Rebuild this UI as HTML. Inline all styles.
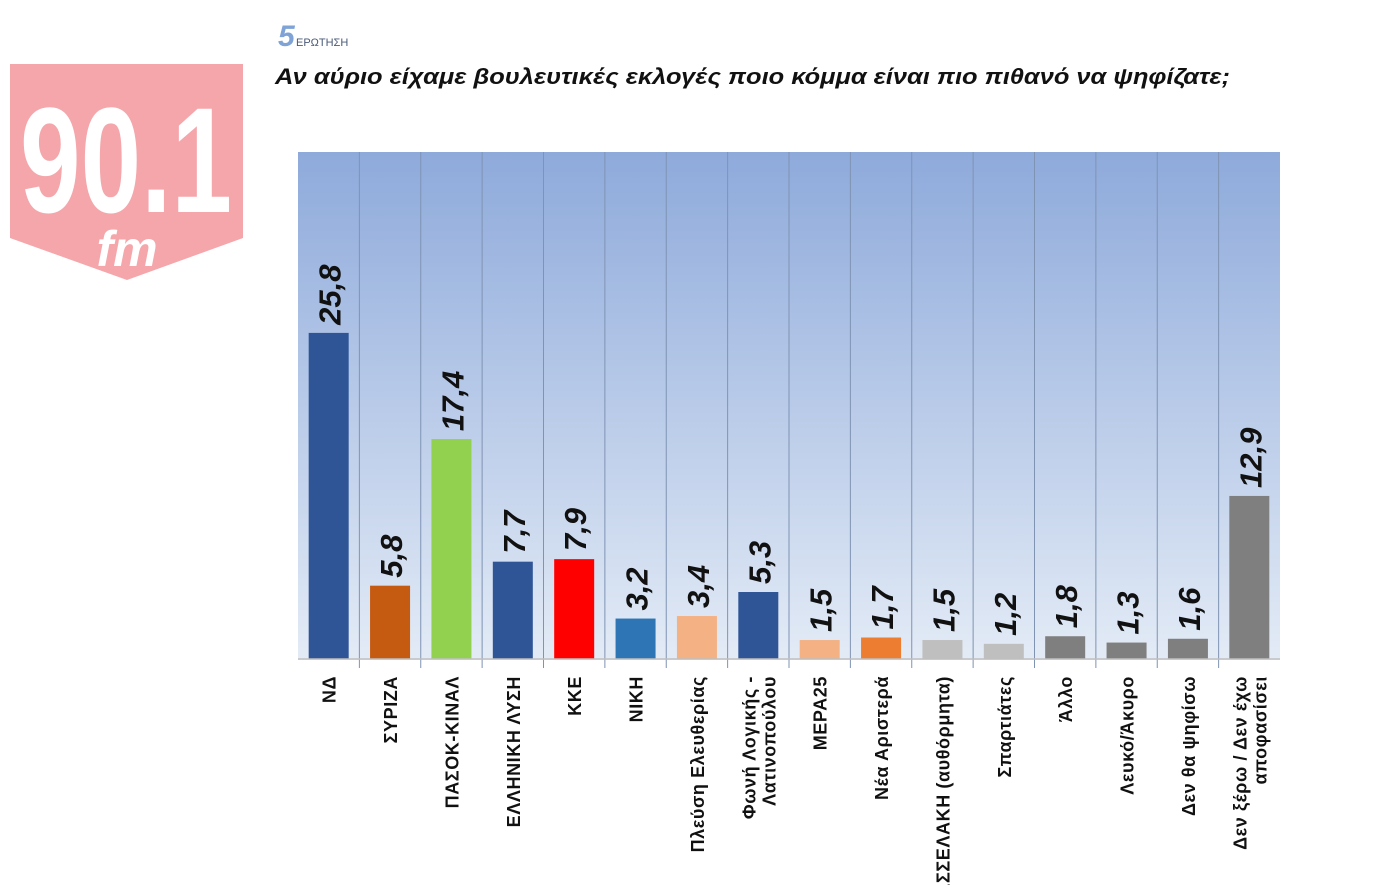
<!DOCTYPE html>
<html><head><meta charset="utf-8"><style>
body{margin:0;width:1390px;height:885px;background:#fff;overflow:hidden;position:relative;font-family:"Liberation Sans","DejaVu Sans",sans-serif}
</style></head><body>
<svg width="1390" height="885" style="position:absolute;left:0;top:0">
<defs><linearGradient id="bg" x1="0" y1="0" x2="0" y2="1"><stop offset="0" stop-color="#8eaadb"/><stop offset="1" stop-color="#e3ebf6"/></linearGradient></defs>
<g>
<path d="M10 64 H243 V238 L127 280 L10 238 Z" fill="#f4a6ab"/>
<text x="20" y="212" font-size="150" font-weight="bold" fill="#fff" textLength="212" lengthAdjust="spacingAndGlyphs">90.1</text>
<text x="127" y="266" text-anchor="middle" font-size="50" font-weight="bold" font-style="italic" fill="#fff">fm</text>
</g>
<g>
<text x="278" y="46" font-size="30" font-weight="bold" font-style="italic" fill="#7fa3d6">5</text>
<text x="296" y="46" font-size="11" fill="#4a5a7a">ΕΡΩΤΗΣΗ</text>
</g>
<text x="275" y="84" font-size="22" font-weight="bold" font-style="italic" fill="#111" textLength="955" lengthAdjust="spacingAndGlyphs">Αν αύριο είχαμε βουλευτικές εκλογές ποιο κόμμα είναι πιο πιθανό να ψηφίζατε;</text>
<rect x="298" y="152" width="982" height="508" fill="url(#bg)"/>
<g id="grid"></g><g id="bars"></g><g id="vals"></g><g id="labels"></g>
<line x1="298" y1="659" x2="1280" y2="659" stroke="#bfbfbf" stroke-width="1.5"/>
</svg>
<script>
const categories=["ΝΔ","ΣΥΡΙΖΑ","ΠΑΣΟΚ-ΚΙΝΑΛ","ΕΛΛΗΝΙΚΗ ΛΥΣΗ","ΚΚΕ","ΝΙΚΗ","Πλεύση Ελευθερίας","Φωνή Λογικής -|Λατινοπούλου","ΜΕΡΑ25","Νέα Αριστερά","ΚΑΣΣΕΛΑΚΗ  (αυθόρμητα)","Σπαρτιάτες","Άλλο","Λευκό/Άκυρο","Δεν θα ψηφίσω","Δεν ξέρω / Δεν έχω|αποφασίσει"];
const values=[25.8,5.8,17.4,7.7,7.9,3.2,3.4,5.3,1.5,1.7,1.5,1.2,1.8,1.3,1.6,12.9];
const valueLabels=["25,8","5,8","17,4","7,7","7,9","3,2","3,4","5,3","1,5","1,7","1,5","1,2","1,8","1,3","1,6","12,9"];
const colors=["#2f5597","#c55a11","#92d050","#2f5597","#ff0000","#2e75b6","#f4b183","#2f5597","#f4b183","#ed7d31","#bfbfbf","#bfbfbf","#7f7f7f","#7f7f7f","#7f7f7f","#7f7f7f"];
const NS="http://www.w3.org/2000/svg";
const x0=298,x1=1280,base=659,scale=12.64;
const bw=(x1-x0)/categories.length;
const xPos=i=>x0+i*bw;
const yPos=v=>base-v*scale;
const mk=(t,a,p)=>{const e=document.createElementNS(NS,t);for(const k in a)e.setAttribute(k,a[k]);document.getElementById(p).appendChild(e);return e;};
for(let i=1;i<categories.length;i++){
 const l=mk("line",{x1:xPos(i),x2:xPos(i),y1:152,y2:668,stroke:"#7f93b3","stroke-width":1},"grid");
 
 
}
values.forEach((v,i)=>{
 const cx=xPos(i)+bw/2;
 const r=mk("rect",{x:cx-20,y:yPos(v),width:40,height:base-yPos(v),fill:colors[i]},"bars");
 
 
 const t=mk("text",{transform:`translate(${cx+12},${yPos(v)-8}) rotate(-90)`,"font-size":31,"font-weight":"bold","font-style":"italic",fill:"#111"},"vals");
 t.textContent=valueLabels[i];
 
 
 const lines=categories[i].split("|");
 lines.forEach((s,j)=>{
  const off=lines.length===1?7:(j===0?-3:17);
  const lt=mk("text",{transform:`translate(${cx+off},676) rotate(-90)`,"text-anchor":"end","font-size":18,"font-weight":"bold",fill:"#111","letter-spacing":"0.6"},"labels");
  lt.textContent=s;
  
  
 });
});
</script>
</body></html>
